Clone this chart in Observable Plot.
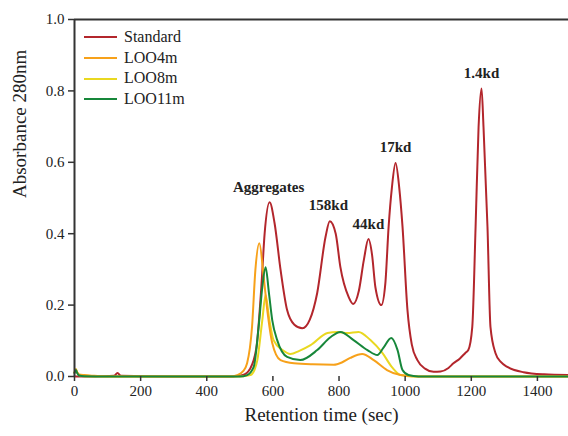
<!DOCTYPE html>
<html>
<head>
<meta charset="utf-8">
<script src="https://cdn.jsdelivr.net/npm/d3@7"></script>
<script src="https://cdn.jsdelivr.net/npm/@observablehq/plot@0.6"></script>
<style>
  body { margin: 0; background: #fff; }
  #wrap { position: relative; width: 568px; height: 436px; font-family: 'Liberation Serif', 'DejaVu Serif', serif; }
  #legend { position: absolute; left: 84px; top: 27px; font-size: 16px; color: #222; line-height: 20.7px; }
  #legend .row { display: flex; align-items: center; }
  #legend .sw { width: 33px; height: 2px; margin-right: 7px; }
  svg text { font-family: 'Liberation Serif', 'DejaVu Serif', serif !important; }
</style>
</head>
<body>
<div id="wrap"><div id="legend"></div></div>
<script>
// ---- data ----
const seriesNames = ["Standard", "LOO4m", "LOO8m", "LOO11m"];
const seriesColors = ["#b3262c", "#f7a11a", "#e9d820", "#17873a"];

const standardT = [0, 60, 120, 130, 140, 300, 480, 510, 530, 550, 565, 575, 590, 605, 623, 643, 665, 689, 712, 734, 759, 772, 790, 804, 829, 843, 860, 875, 889, 900, 910, 928, 940, 950, 960, 971, 982, 992, 1007, 1020, 1037, 1060, 1086, 1107, 1131, 1146, 1165, 1182, 1191, 1203, 1213, 1222, 1231, 1237, 1249, 1258, 1273, 1290, 1309, 1358, 1420, 1494];
const standardA = [0.0, 0.0, 0.002, 0.01, 0.002, 0.0, 0.0, 0.004, 0.02, 0.08, 0.25, 0.40, 0.488, 0.43, 0.30, 0.186, 0.145, 0.135, 0.16, 0.234, 0.39, 0.435, 0.40, 0.307, 0.223, 0.203, 0.24, 0.326, 0.385, 0.34, 0.25, 0.20, 0.26, 0.42, 0.53, 0.598, 0.53, 0.42, 0.186, 0.09, 0.046, 0.022, 0.013, 0.014, 0.024, 0.037, 0.05, 0.066, 0.074, 0.139, 0.419, 0.698, 0.807, 0.698, 0.419, 0.139, 0.066, 0.04, 0.027, 0.012, 0.006, 0.004];

const loo4mT = [0, 4, 8, 14, 30, 60, 100, 300, 470, 492, 510, 522, 537, 547, 559, 572, 583, 598, 623, 664, 720, 784, 810, 834, 870, 905, 945, 986, 1040, 1494];
const loo4mA = [0.01, 0.02, 0.012, 0.006, 0.004, 0.002, 0.0, 0.0, 0.0, 0.004, 0.015, 0.037, 0.14, 0.298, 0.373, 0.28, 0.186, 0.094, 0.046, 0.037, 0.034, 0.033, 0.04, 0.052, 0.063, 0.046, 0.018, 0.004, 0.0, 0.0];

const loo8mT = [0, 4, 8, 14, 30, 100, 300, 500, 532, 545, 553, 568, 578, 588, 602, 629, 653, 680, 714, 765, 795, 825, 859, 895, 931, 962, 986, 1020, 1494];
const loo8mA = [0.012, 0.02, 0.012, 0.004, 0.001, 0.0, 0.0, 0.0, 0.004, 0.02, 0.046, 0.158, 0.228, 0.167, 0.102, 0.074, 0.063, 0.072, 0.088, 0.122, 0.125, 0.122, 0.125, 0.102, 0.066, 0.024, 0.004, 0.0, 0.0];

const loo11mT = [0, 4, 8, 14, 30, 100, 300, 500, 522, 542, 557, 568, 578, 588, 598, 613, 643, 683, 734, 774, 804, 844, 886, 916, 934, 958, 977, 992, 1010, 1040, 1494];
const loo11mA = [0.01, 0.018, 0.01, 0.003, 0.001, 0.0, 0.0, 0.0, 0.004, 0.027, 0.14, 0.25, 0.306, 0.234, 0.158, 0.102, 0.055, 0.046, 0.074, 0.11, 0.125, 0.102, 0.074, 0.06, 0.08, 0.108, 0.074, 0.018, 0.004, 0.0, 0.0];

const xTicks = [0, 200, 400, 600, 800, 1000, 1200, 1400];
const yTicks = [0.0, 0.2, 0.4, 0.6, 0.8, 1.0];

const peakLabels = ["Aggregates", "158kd", "44kd", "17kd", "1.4kd"];
const peakLabelX = [587, 768, 889, 971, 1231];
const peakLabelY = [0.53, 0.48, 0.427, 0.642, 0.851];

// ---- build table ----
const seriesT = [standardT, loo4mT, loo8mT, loo11mT];
const seriesA = [standardA, loo4mA, loo8mA, loo11mA];
const drawOrder = [0, 2, 1, 3];
const rows = [];
for (const i of drawOrder) {
  seriesT[i].forEach((t, k) => rows.push({series: seriesNames[i], t, a: seriesA[i][k]}));
}
const labels = peakLabels.map((s, i) => ({s, x: peakLabelX[i], y: peakLabelY[i]}));

const font = "'Liberation Serif', 'DejaVu Serif', serif";
const chart = Plot.plot({
  width: 568,
  height: 436,
  marginLeft: 74,
  marginRight: 0,
  marginTop: 19,
  marginBottom: 60,
  style: {fontFamily: font, fontSize: "15px", color: "#222", background: "white", overflow: "visible"},
  x: {domain: [0, 1494]},
  y: {domain: [0, 1]},
  color: {domain: seriesNames, range: seriesColors},
  marks: [
    Plot.line(rows, {x: "t", y: "a", z: "series", stroke: "series", strokeWidth: 2, curve: "monotone-x"}),
    Plot.ruleY([1], {stroke: "#333", strokeWidth: 2}),
    Plot.ruleX([0], {stroke: "#333", strokeWidth: 2}),
    Plot.axisX({ticks: xTicks, tickSize: 5, tickPadding: 4, tickFormat: d3.format("d"), fontSize: 15, stroke: "#333", strokeWidth: 1.5, label: null}),
    Plot.axisY({ticks: yTicks, tickSize: 6, tickPadding: 4, tickFormat: d3.format(".1f"), fontSize: 15, stroke: "#333", strokeWidth: 1.5, label: null}),
    Plot.text(labels, {x: "x", y: "y", text: "s", fontSize: 15, fontWeight: "bold", fill: "#222"}),
    Plot.text(["Retention time (sec)"], {frameAnchor: "bottom", dy: 44, fontSize: 19, fill: "#222"}),
    Plot.text(["Absorbance 280nm"], {frameAnchor: "left", dx: -55, rotate: -90, fontSize: 19, fill: "#222"})
  ]
});
const wrap = document.getElementById("wrap");
wrap.insertBefore(chart, wrap.firstChild);

const legend = document.getElementById("legend");
seriesNames.forEach((n, i) => {
  const row = document.createElement("div");
  row.className = "row";
  row.innerHTML = `<span class="sw" style="background:${seriesColors[i]}"></span><span>${n}</span>`;
  legend.appendChild(row);
});
</script>
</body>
</html>
